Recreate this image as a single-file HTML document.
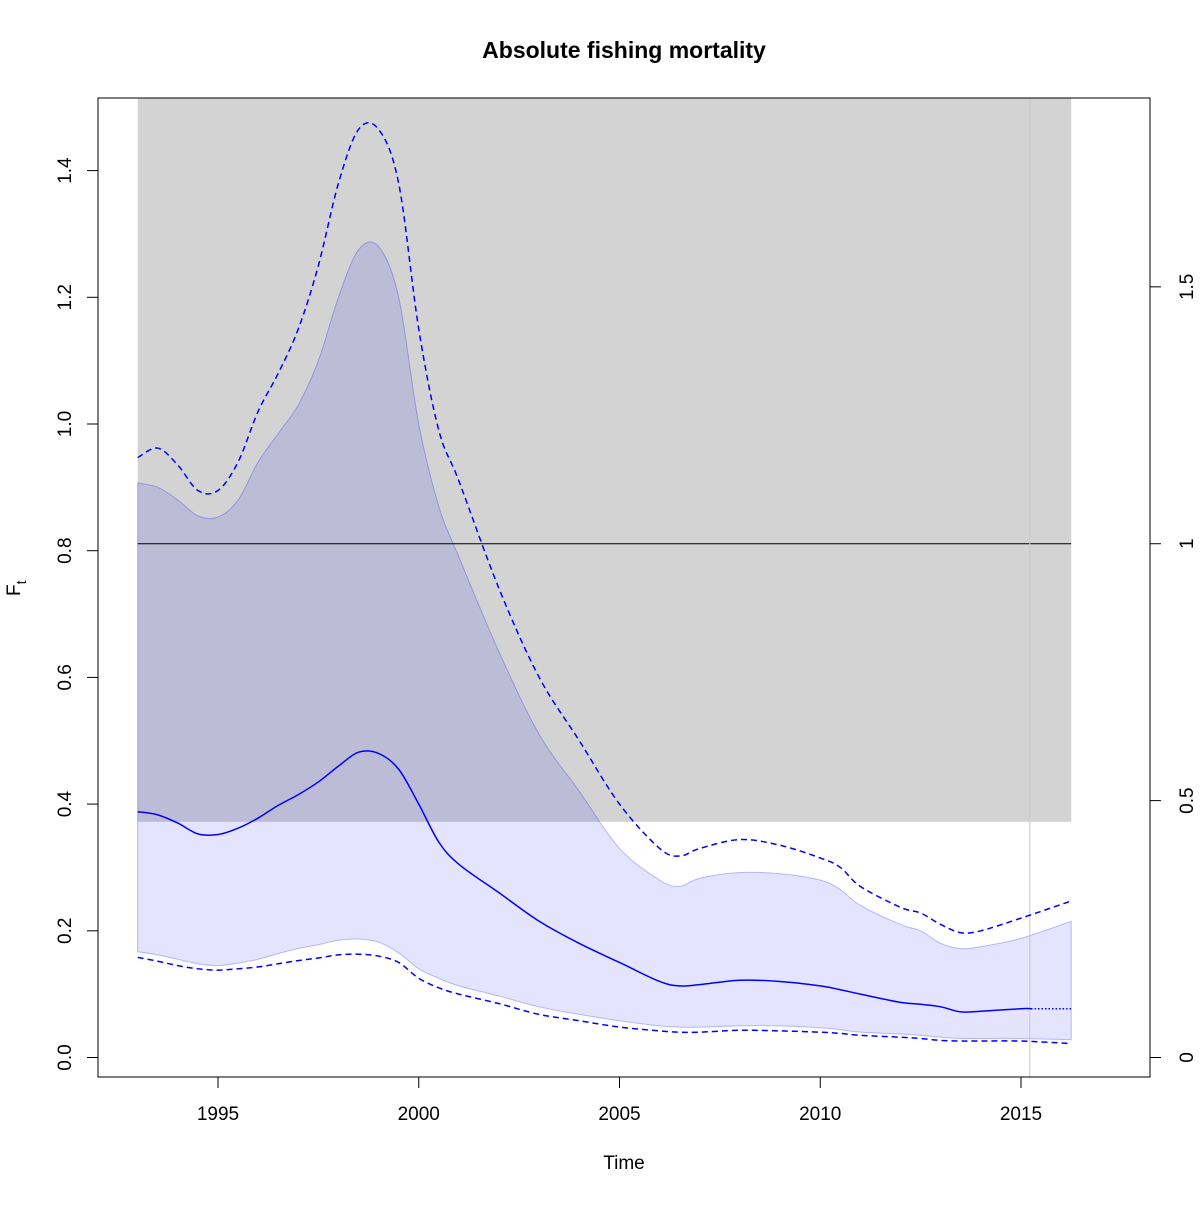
<!DOCTYPE html>
<html><head><meta charset="utf-8"><style>
body{margin:0;background:#fff}
svg text{font-family:"Liberation Sans","DejaVu Sans",sans-serif;fill:#000}
</style></head><body>
<svg id="chart" width="1200" height="1200" viewBox="0 0 1200 1200" xmlns="http://www.w3.org/2000/svg">
<rect width="1200" height="1200" fill="#fff"/>
<text x="624" y="58" font-size="23" font-weight="bold" text-anchor="middle">Absolute fishing mortality</text>
<g id="plot"></g>
<rect x="98" y="98" width="1052" height="979" fill="none" stroke="#000" stroke-width="1"/>
<text x="624" y="1169" font-size="19" text-anchor="middle">Time</text>
<text transform="translate(20,596) rotate(-90)" font-size="19">F<tspan font-size="14" dy="6">t</tspan></text>
</svg>
<script>
const times=[1993,1993.5,1994,1994.5,1995,1995.5,1996,1996.5,1997,1997.5,1998,1998.5,1999,1999.5,2000,2000.5,2001,2002,2003,2004,2005,2006,2006.5,2007,2008,2009,2010,2010.5,2011,2012,2012.5,2013,2013.5,2014,2015,2015.25];
const median=[0.388,0.383,0.37,0.353,0.352,0.362,0.378,0.398,0.415,0.435,0.46,0.482,0.48,0.455,0.4,0.34,0.305,0.26,0.215,0.18,0.15,0.12,0.113,0.115,0.122,0.12,0.113,0.107,0.1,0.087,0.084,0.08,0.072,0.073,0.077,0.077];
const bandTimes=[1993,1993.5,1994,1994.5,1995,1995.5,1996,1996.5,1997,1997.5,1998,1998.5,1999,1999.5,2000,2000.5,2001,2002,2003,2004,2005,2006,2006.5,2007,2008,2009,2010,2010.5,2011,2012,2012.5,2013,2013.5,2014,2015,2016.25];
const bandUpper=[0.907,0.9,0.88,0.855,0.853,0.88,0.94,0.985,1.03,1.1,1.2,1.275,1.28,1.2,1.0,0.87,0.79,0.64,0.51,0.42,0.33,0.28,0.27,0.283,0.292,0.29,0.28,0.265,0.24,0.21,0.2,0.18,0.172,0.175,0.188,0.215];
const bandLower=[0.167,0.162,0.155,0.148,0.145,0.149,0.155,0.164,0.172,0.178,0.185,0.187,0.182,0.165,0.14,0.125,0.113,0.097,0.08,0.068,0.058,0.05,0.048,0.048,0.05,0.05,0.047,0.044,0.04,0.037,0.035,0.032,0.03,0.03,0.03,0.028];
const dashUpper=[0.947,0.962,0.935,0.895,0.895,0.94,1.02,1.08,1.15,1.25,1.38,1.465,1.465,1.38,1.15,0.99,0.91,0.74,0.6,0.5,0.4,0.33,0.318,0.33,0.344,0.335,0.315,0.3,0.27,0.237,0.228,0.21,0.197,0.2,0.22,0.247];
const dashLower=[0.158,0.152,0.145,0.14,0.138,0.14,0.143,0.148,0.153,0.157,0.162,0.163,0.16,0.15,0.125,0.11,0.1,0.085,0.068,0.058,0.048,0.042,0.04,0.04,0.043,0.042,0.04,0.038,0.035,0.032,0.03,0.027,0.026,0.026,0.026,0.022];
const predTimes=[2015.25,2016.25];
const predMedian=[0.077,0.077];
const fmsy=0.811;
const greyLimit=0.372;
const lastObs=2015.22;
const xTicks=[1995,2000,2005,2010,2015];
const yTicks=[0,0.2,0.4,0.6,0.8,1.0,1.2,1.4];
const yTickLabels=["0.0","0.2","0.4","0.6","0.8","1.0","1.2","1.4"];
const rTicks=[0,0.5,1,1.5];
const rTickLabels=["0","0.5","1","1.5"];

const X=t=>218+(t-1995)*40.15;
const Y=v=>1057.5-v*633.5;
const YR=r=>Y(r*fmsy);
const NS="http://www.w3.org/2000/svg";
const g=document.getElementById('plot');
function mk(tag,attrs){const e=document.createElementNS(NS,tag);for(const k in attrs)e.setAttribute(k,attrs[k]);g.appendChild(e);return e;}
function smooth(pts,move=true){
  let d=move?`M${pts[0][0]},${pts[0][1]}`:`L${pts[0][0]},${pts[0][1]}`;
  for(let i=0;i<pts.length-1;i++){
    const p0=pts[Math.max(i-1,0)],p1=pts[i],p2=pts[i+1],p3=pts[Math.min(i+2,pts.length-1)];
    const c1=[p1[0]+(p2[0]-p0[0])/6,p1[1]+(p2[1]-p0[1])/6];
    const c2=[p2[0]-(p3[0]-p1[0])/6,p2[1]-(p3[1]-p1[1])/6];
    d+=`C${c1[0]},${c1[1]} ${c2[0]},${c2[1]} ${p2[0]},${p2[1]}`;
  }
  return d;
}
const pts=(ts,vs)=>ts.map((t,i)=>[X(t),Y(vs[i])]);

let e=mk('rect',{x:X(bandTimes[0]),y:98,width:X(bandTimes[bandTimes.length-1])-X(bandTimes[0]),height:Y(greyLimit)-98,fill:'#d3d3d3'});



const up=pts(bandTimes,bandUpper), lo=pts(bandTimes,bandLower).reverse();
e=mk('path',{d:smooth(up)+smooth(lo,false)+'Z',fill:'rgba(0,0,255,0.105)',stroke:'rgba(0,0,255,0.25)','stroke-width':1});



e=mk('line',{x1:X(bandTimes[0]),x2:X(bandTimes[bandTimes.length-1]),y1:Y(fmsy),y2:Y(fmsy),stroke:'#000','stroke-width':1});



e=mk('line',{x1:X(lastObs),x2:X(lastObs),y1:98,y2:1077,stroke:'#c8c8c8','stroke-width':1});



e=mk('path',{d:smooth(pts(bandTimes,dashUpper)),fill:'none',stroke:'#0000ff','stroke-width':1.5,'stroke-dasharray':'6,4'});


e=mk('path',{d:smooth(pts(bandTimes,dashLower)),fill:'none',stroke:'#0000ff','stroke-width':1.5,'stroke-dasharray':'6,4'});


e=mk('path',{d:smooth(pts(times,median)),fill:'none',stroke:'#0000ff','stroke-width':1.5});


e=mk('path',{d:smooth(pts(predTimes,predMedian)),fill:'none',stroke:'#0000ff','stroke-width':1.5,'stroke-dasharray':'1.5,2'});



xTicks.forEach(t=>{
  e=mk('line',{x1:X(t),x2:X(t),y1:1077,y2:1088,stroke:'#000'});
  
  
  e=mk('text',{x:X(t),y:1120,'font-size':19,'text-anchor':'middle'});e.textContent=t;
  
  
});
e=mk('line',{x1:X(1995),x2:X(2015),y1:1077,y2:1077,stroke:'#000'});
yTicks.forEach((v,i)=>{
  e=mk('line',{x1:87,x2:98,y1:Y(v),y2:Y(v),stroke:'#000'});
  
  
  e=mk('text',{transform:`translate(71,${Y(v)}) rotate(-90)`,'font-size':19,'text-anchor':'middle'});e.textContent=yTickLabels[i];
  
  
});
rTicks.forEach((r,i)=>{
  e=mk('line',{x1:1150,x2:1161,y1:YR(r),y2:YR(r),stroke:'#000'});
  
  
  e=mk('text',{transform:`translate(1193,${YR(r)}) rotate(-90)`,'font-size':19,'text-anchor':'middle'});e.textContent=rTickLabels[i];
  
  
});
</script>
</body></html>
